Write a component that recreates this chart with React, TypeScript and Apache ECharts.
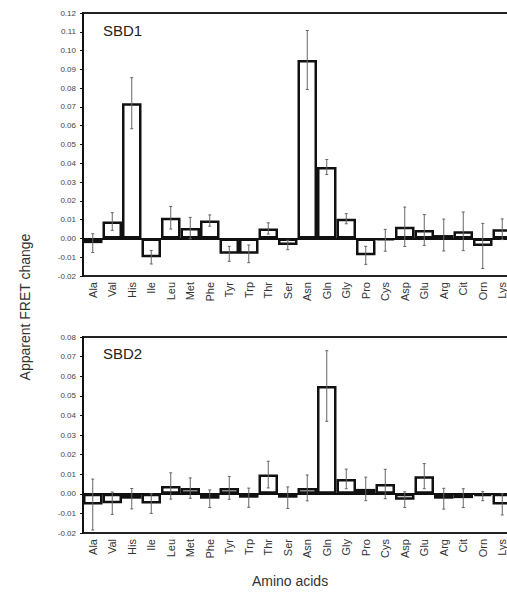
import React, { useEffect, useRef } from "react";
import * as echarts from "echarts";

const aminoAcids = [
  "Ala", "Val", "His", "Ile", "Leu", "Met", "Phe", "Tyr", "Trp", "Thr", "Ser",
  "Asn", "Gln", "Gly", "Pro", "Cys", "Asp", "Glu", "Arg", "Cit", "Orn", "Lys",
];

const sbd1Values = [
  -0.0025, 0.009, 0.072, -0.010, 0.011, 0.0055, 0.0095, -0.0082, -0.0082, 0.0053, -0.0035,
  0.095, 0.038, 0.0105, -0.009, -0.001, 0.0062, 0.0045, 0.0018, 0.0038, -0.004, 0.0049,
];
const sbd1Errors = [
  0.005, 0.0047, 0.0136, 0.0036, 0.006, 0.0057, 0.003, 0.004, 0.0047, 0.003, 0.0025,
  0.0157, 0.004, 0.0027, 0.0048, 0.0058, 0.0105, 0.0082, 0.0085, 0.0103, 0.012, 0.0055,
];

const sbd2Values = [
  -0.0055, -0.0048, -0.0025, -0.005, 0.004, 0.0029, -0.0025, 0.003, -0.002, 0.0098, -0.002,
  0.003, 0.055, 0.0076, 0.0025, 0.005, -0.003, 0.009, -0.0025, -0.0022, -0.0012, -0.0054,
];
const sbd2Errors = [
  0.013, 0.0057, 0.0052, 0.005, 0.0067, 0.0052, 0.0045, 0.0058, 0.0049, 0.0068, 0.0055,
  0.0066, 0.018, 0.005, 0.006, 0.0075, 0.004, 0.0064, 0.0053, 0.0048, 0.0023, 0.0054,
];

const Y_MIN = -0.02;
const FONT = "Liberation Sans, Arial, sans-serif";

function errorBarItem(params: any, api: any) {
  const idx = api.value(0);
  const v = api.value(1);
  const e = api.value(2);
  const top = api.coord([idx, v + e]);
  const bot = api.coord([idx, v - e]);
  const style = { stroke: "#666", lineWidth: 1 };
  const cap = 1.5;
  return {
    type: "group",
    children: [
      { type: "line", shape: { x1: top[0], y1: top[1], x2: bot[0], y2: bot[1] }, style },
      { type: "line", shape: { x1: top[0] - cap, y1: top[1], x2: top[0] + cap, y2: top[1] }, style },
      { type: "line", shape: { x1: bot[0] - cap, y1: bot[1], x2: bot[0] + cap, y2: bot[1] }, style },
    ],
  };
}

export default function App() {
  const ref = useRef<HTMLDivElement>(null);

  useEffect(() => {
    if (!ref.current) return;
    const chart = echarts.init(ref.current, null, { renderer: "svg" });

    const xAxisBase = (gridIndex: number) => ({
      type: "category",
      gridIndex,
      data: aminoAcids,
      axisLine: { lineStyle: { color: "#111", width: 2 } },
      axisTick: { show: false },
      axisLabel: { show: false },
    });

    const yAxisBase = (gridIndex: number, max: number) => ({
      type: "value",
      gridIndex,
      min: Y_MIN,
      max,
      interval: 0.01,
      axisLine: { show: true, lineStyle: { color: "#111", width: 2 } },
      axisTick: { show: true, length: 3, lineStyle: { color: "#111", width: 1 } },
      axisLabel: {
        margin: 7,
        fontSize: 8,
        color: "#444",
        formatter: (v: number) => v.toFixed(2),
      },
      splitLine: { show: false },
    });

    const barStyle = {
      color: "#ffffff",
      borderColor: "#111",
      borderWidth: 2.5,
    };

    const titles: any[] = [
      {
        type: "text",
        left: 103,
        top: 23,
        style: { text: "SBD1", fontSize: 15, fill: "#222", fontFamily: FONT },
      },
      {
        type: "text",
        left: 103,
        top: 346,
        style: { text: "SBD2", fontSize: 15, fill: "#222", fontFamily: FONT },
      },
      {
        type: "text",
        x: 25,
        y: 307,
        rotation: Math.PI / 2,
        style: {
          text: "Apparent FRET change",
          fontSize: 14,
          fill: "#333",
          fontFamily: FONT,
          align: "center",
          verticalAlign: "middle",
        },
      },
      {
        type: "text",
        x: 290,
        y: 581,
        style: {
          text: "Amino acids",
          fontSize: 14,
          fill: "#333",
          fontFamily: FONT,
          align: "center",
          verticalAlign: "middle",
        },
      },
    ];

    chart.setOption({
      animation: false,
      backgroundColor: "#ffffff",
      textStyle: { fontFamily: FONT },
      grid: [
        { left: 83, top: 13, width: 429, height: 263, show: true, borderColor: "#222", borderWidth: 2, outerBoundsMode: "none" },
        { left: 83, top: 337, width: 429, height: 196, show: true, borderColor: "#222", borderWidth: 2, outerBoundsMode: "none" },
      ],
      xAxis: [xAxisBase(0), xAxisBase(1)],
      yAxis: [yAxisBase(0, 0.12), yAxisBase(1, 0.08)],
      series: [
        {
          type: "bar",
          xAxisIndex: 0,
          yAxisIndex: 0,
          data: sbd1Values,
          barWidth: "100%",
          itemStyle: barStyle,
          z: 2,
        },
        {
          type: "custom",
          xAxisIndex: 0,
          yAxisIndex: 0,
          renderItem: errorBarItem,
          encode: { x: 0, y: 1 },
          data: sbd1Values.map((v, i) => [i, v, sbd1Errors[i]]),
          z: 3,
        },
        {
          type: "bar",
          xAxisIndex: 1,
          yAxisIndex: 1,
          data: sbd2Values,
          barWidth: "100%",
          itemStyle: barStyle,
          z: 2,
        },
        {
          type: "custom",
          xAxisIndex: 1,
          yAxisIndex: 1,
          renderItem: errorBarItem,
          encode: { x: 0, y: 1 },
          data: sbd2Values.map((v, i) => [i, v, sbd2Errors[i]]),
          z: 3,
        },
      ],
      graphic: titles,
    });

    // Vertical category names under each panel, placed from the axes' own scales.
    const categoryLabels: any[] = [];
    [0, 1].forEach((axisIndex) => {
      const yBottom = chart.convertToPixel({ yAxisIndex: axisIndex } as any, Y_MIN) as unknown as number;
      aminoAcids.forEach((name, i) => {
        const x = chart.convertToPixel({ xAxisIndex: axisIndex } as any, i) as unknown as number;
        categoryLabels.push({
          type: "text",
          x,
          y: yBottom + 6,
          rotation: Math.PI / 2,
          silent: true,
          style: {
            text: name,
            fontSize: 11,
            fill: "#333",
            fontFamily: FONT,
            align: "right",
            verticalAlign: "middle",
          },
        });
      });
    });

    chart.setOption({ graphic: [...titles, ...categoryLabels] });

    return () => chart.dispose();
  }, []);

  return (
    <div
      ref={ref}
      style={{ position: "absolute", left: 0, top: 0, width: 507, height: 594, background: "#fff" }}
    />
  );
}
